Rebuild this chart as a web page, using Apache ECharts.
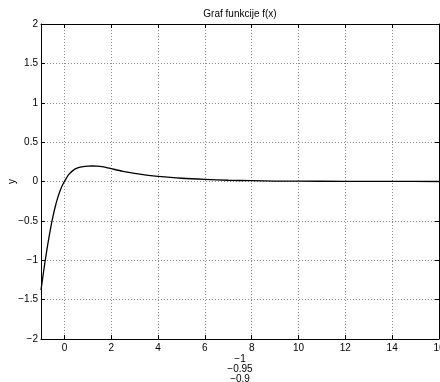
<!DOCTYPE html>
<html>
<head>
<meta charset="utf-8">
<script src="https://cdn.jsdelivr.net/npm/echarts@6/dist/echarts.min.js"></script>
<style>
  html, body { margin: 0; padding: 0; background: #fff; }
  #chart { width: 440px; height: 382px; }
</style>
</head>
<body>
<div id="chart"></div>
<script>
// points
const xs = [-1, -0.9, -0.8, -0.7, -0.6, -0.5, -0.4, -0.3, -0.2, -0.1, 0, 0.1,
  0.2, 0.4, 0.6, 0.8, 1.0, 1.2, 1.4, 1.6, 1.8, 2, 2.5, 3, 3.5, 4, 5, 6, 7, 8, 9, 10, 12, 14, 16]
const ys = [-1.38, -1.165, -0.965, -0.78, -0.61, -0.46, -0.33, -0.22, -0.13, -0.058, 0, 0.05,
  0.093, 0.148, 0.175, 0.189, 0.195, 0.197, 0.195, 0.189, 0.177, 0.163, 0.13, 0.103, 0.082, 0.065,
  0.041, 0.026, 0.016, 0.01, 0.006, 0.004, 0.002, 0.001, 0]
const xTicks = [0, 2, 4, 6, 8, 10, 12, 14, 16]
const xLabelLines = ['−1', '−0.95', '−0.9']

const font = 'Liberation Sans, Arial, Helvetica, sans-serif'
const minus = (v) => String(v).replace('-', '−')
const grid = { show: true, lineStyle: { color: '#8a8a8a', type: [1, 2], width: 1 } }
const line = { show: true, onZero: false, lineStyle: { color: '#000', width: 1 } }
const tick = { show: true, inside: true, length: 4, lineStyle: { color: '#000' } }

const chart = echarts.init(document.getElementById('chart'))
chart.setOption({
  animation: false,
  title: {
    text: 'Graf funkcije f(x)',
    left: 240,
    top: 9,
    padding: 0,
    textAlign: 'center',
    textStyle: { fontFamily: font, fontSize: 10, fontWeight: 'normal', color: '#000' },
  },
  grid: { left: 41, right: 1, top: 24, bottom: 43, containLabel: false, outerBoundsMode: 'none' },
  xAxis: [
    {
      type: 'value',
      min: -1,
      max: 16,
      position: 'bottom',
      axisLine: line,
      axisTick: { ...tick, customValues: xTicks },
      axisLabel: { customValues: xTicks, margin: 4, fontFamily: font, fontSize: 10, color: '#000', formatter: minus },
      splitLine: grid,
      name: xLabelLines.join('\n'),
      nameLocation: 'middle',
      nameGap: 15,
      nameMoveOverlap: false,
      nameTextStyle: { fontFamily: font, fontSize: 10, color: '#000', lineHeight: 10 },
    },
    {
      type: 'value',
      min: -1,
      max: 16,
      position: 'top',
      axisLine: line,
      axisTick: { ...tick, customValues: xTicks },
      axisLabel: { show: false },
      splitLine: { show: false },
    },
  ],
  yAxis: [
    {
      type: 'value',
      min: -2,
      max: 2,
      interval: 0.5,
      position: 'left',
      axisLine: line,
      axisTick: tick,
      axisLabel: { margin: 3, fontFamily: font, fontSize: 10, color: '#000', formatter: minus },
      splitLine: grid,
      name: 'y',
      nameLocation: 'middle',
      nameGap: 24,
      nameMoveOverlap: false,
      nameTextStyle: { fontFamily: font, fontSize: 10, color: '#000' },
    },
    {
      type: 'value',
      min: -2,
      max: 2,
      interval: 0.5,
      position: 'right',
      axisLine: line,
      axisTick: tick,
      axisLabel: { show: false },
      splitLine: { show: false },
    },
  ],
  series: [
    {
      type: 'line',
      data: xs.map((x, i) => [x, ys[i]]),
      smooth: 0.3,
      symbol: 'none',
      lineStyle: { color: '#000', width: 1.3 },
    },
  ],
})
</script>
</body>
</html>
